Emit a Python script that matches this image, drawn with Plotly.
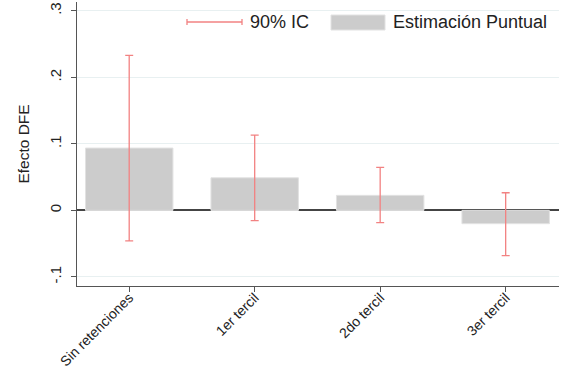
import plotly.graph_objects as go

# Point estimates and 90% confidence intervals by group
categories = ["Sin retenciones", "1er tercil", "2do tercil", "3er tercil"]
estimates = [0.0937, 0.049, 0.0226, -0.020]
ci_low = [-0.0460, -0.0155, -0.0185, -0.068]
ci_high = [0.2330, 0.1130, 0.0647, 0.0265]
y_ticks = [-0.1, 0, 0.1, 0.2, 0.3]
y_tick_text = ["-.1", "0", ".1", ".2", ".3"]

x_pos = list(range(len(categories)))
err_plus = [h - e for h, e in zip(ci_high, estimates)]
err_minus = [e - l for e, l in zip(estimates, ci_low)]

ci_color = "rgb(242,130,130)"
bar_color = "#cccccc"
font_family = "Liberation Sans, Arial, sans-serif"

fig = go.Figure()

fig.add_trace(go.Bar(
    x=x_pos,
    y=estimates,
    width=0.697,
    marker=dict(color=bar_color, line=dict(color="#e2e2e2", width=1)),
    showlegend=False,
    hoverinfo="skip",
))

fig.add_trace(go.Scatter(
    x=x_pos,
    y=estimates,
    mode="markers",
    marker=dict(size=0.1, color="rgba(0,0,0,0)"),
    error_y=dict(
        type="data",
        symmetric=False,
        array=err_plus,
        arrayminus=err_minus,
        color=ci_color,
        thickness=1.3,
        width=4,
    ),
    showlegend=False,
    hoverinfo="skip",
))

# Legend drawn in paper space
legend_y = 22
W, H = 563, 372
left_m, right_m = 77, 4
top_m, bot_m = 2, 86
pw = W - left_m - right_m
ph = H - top_m - bot_m


def px(pix):
    return (pix - left_m) / pw


def py(pix):
    return 1 - (pix - top_m) / ph


shapes = [
    dict(type="line", xref="paper", yref="paper", x0=px(187), x1=px(242),
         y0=py(legend_y), y1=py(legend_y), line=dict(color=ci_color, width=1.3)),
    dict(type="line", xref="paper", yref="paper", x0=px(187), x1=px(187),
         y0=py(legend_y - 3), y1=py(legend_y + 3), line=dict(color=ci_color, width=1.3)),
    dict(type="line", xref="paper", yref="paper", x0=px(242), x1=px(242),
         y0=py(legend_y - 3), y1=py(legend_y + 3), line=dict(color=ci_color, width=1.3)),
    dict(type="rect", xref="paper", yref="paper", x0=px(331), x1=px(385),
         y0=py(30), y1=py(15), fillcolor=bar_color, line=dict(color="#e2e2e2", width=1)),
]

annotations = [
    dict(text="90% IC", xref="paper", yref="paper", x=px(248), y=py(legend_y),
         xanchor="left", yanchor="middle", showarrow=False,
         font=dict(family=font_family, size=18, color="#222")),
    dict(text="Estimación Puntual", xref="paper", yref="paper", x=px(391), y=py(legend_y),
         xanchor="left", yanchor="middle", showarrow=False,
         font=dict(family=font_family, size=18, color="#222")),
]

fig.update_layout(
    width=W,
    height=H,
    margin=dict(l=left_m, r=right_m, t=top_m, b=bot_m),
    paper_bgcolor="white",
    plot_bgcolor="white",
    font=dict(family=font_family, color="#222"),
    shapes=shapes,
    annotations=annotations,
    showlegend=False,
    xaxis=dict(
        range=[-0.416, 3.425],
        tickmode="array",
        tickvals=x_pos,
        ticktext=categories,
        tickangle=-45,
        tickfont=dict(size=14, color="#222"),
        ticks="outside",
        ticklen=5,
        tickcolor="#555",
        ticklabelstandoff=-8,
        ticklabeloverflow="allow",
        showline=True,
        linecolor="#555",
        linewidth=1.3,
        showgrid=False,
        zeroline=False,
        automargin=False,
    ),
    yaxis=dict(
        range=[-0.1137, 0.3133],
        tickmode="array",
        tickvals=y_ticks,
        ticktext=y_tick_text,
        tickangle=-90,
        tickfont=dict(size=15, color="#222"),
        ticks="outside",
        ticklen=5,
        tickcolor="#555",
        ticklabelstandoff=4,
        showline=True,
        linecolor="#555",
        linewidth=1.3,
        showgrid=True,
        gridcolor="#e8f0f1",
        gridwidth=1,
        zeroline=True,
        zerolinecolor="#444",
        zerolinewidth=1.5,
        automargin=False,
        title=dict(text="Efecto DFE", font=dict(size=15.5, color="#222"), standoff=13),
    ),
)

fig.write_html("out.html")
